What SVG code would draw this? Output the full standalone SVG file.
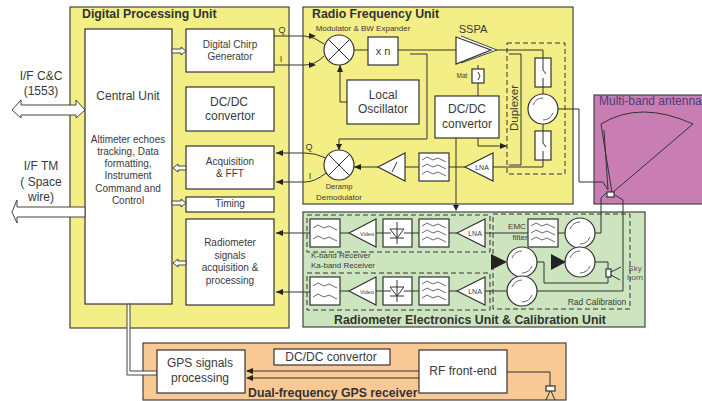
<svg xmlns="http://www.w3.org/2000/svg" width="702" height="401" viewBox="0 0 702 401">
<style>
text{font-family:"Liberation Sans",Arial,sans-serif;fill:#3a3a3a;font-size:10px;text-anchor:middle}
.t{font-weight:bold;font-size:12.3px;text-anchor:start;fill:#333}
.m{font-size:12px}
.s{font-size:8px}
.u{stroke:#444;stroke-width:1.2}
.b{fill:#fff;stroke:#333;stroke-width:1.2}
.l{fill:none;stroke:#333;stroke-width:1}
.d{fill:none;stroke:#333;stroke-width:1;stroke-dasharray:5 3}
.h{fill:#fff;stroke:#444;stroke-width:1}
.a{fill:#222;stroke:none}
.g{fill:none;stroke:#444;stroke-width:.8}
</style>
<defs>
<g id="filt2"><path class="g" d="M3 9l5-3 6 3 5-2 8 4M3 20l5-3 6 3 5-2 8 4"/></g>
<g id="filt3"><path class="g" d="M3 7l5-3 6 3 5-2 8 4M3 14l5-3 6 3 5-2 8 4M3 21l5-3 6 3 5-2 8 4"/></g>
<g id="circ"><circle r="15" class="b"/><path class="g" d="M-10-4A11 11 0 0 1 0-11M10 4A11 11 0 0 1 0 11"/></g>
<g id="mix"><circle r="15" class="b"/><path class="l" d="M-10-10L10 10M-10 10L10-10"/></g>
</defs>
<g id="digital-unit"><rect class="u" x="70" y="7" width="219" height="321" fill="#f3ee85"/><text class="t" x="82" y="18">Digital Processing Unit</text></g>
<g id="rf-unit"><rect class="u" x="303" y="7" width="270" height="197" fill="#f3ee85"/><text class="t" x="312" y="18">Radio Frequency Unit</text><text class="s" x="363" y="31">Modulator &amp; BW Expander</text></g>
<g id="antenna-unit"><rect class="u" x="594" y="95" width="109" height="109" fill="#c87db3"/><text x="599" y="105" style="text-anchor:start;font-size:12px;fill:#4a3f7a">Multi-band antenna</text><path class="l" d="M601 124Q640 100 693 124L612 193L601 124M604 130L608 190"/></g>
<g id="radiometer-unit"><rect class="u" x="303" y="212" width="342" height="115" fill="#cde5bf"/><text class="t" x="334" y="324">Radiometer Electronics Unit &amp; Calibration Unit</text></g>
<g id="gps-unit"><rect class="u" x="143" y="343" width="423" height="57" fill="#f9c995"/><text class="t" x="248" y="397">Dual-frequency GPS receiver</text></g>
<g id="central-unit"><rect class="b" x="85" y="29" width="87" height="275"/><text class="m" x="128" y="100">Central Unit</text><text x="128" y="143">Altimeter echoes</text><text x="128" y="155">tracking,  Data</text><text x="128" y="167">formatting,</text><text x="128" y="179">Instrument</text><text x="128" y="192">Command and</text><text x="128" y="204">Control</text></g>
<g id="chirp"><rect class="b" x="186" y="29" width="88" height="43"/><text x="230" y="48">Digital Chirp</text><text x="230" y="60">Generator</text></g>
<g id="dpu-dcdc"><rect class="b" x="186" y="87" width="88" height="44"/><text class="m" x="229" y="106">DC/DC</text><text class="m" x="230" y="120">convertor</text></g>
<g id="acq"><rect class="b" x="186" y="146" width="88" height="43"/><text x="230" y="165">Acquisition</text><text x="230" y="177">&amp; FFT</text></g>
<g id="timing"><rect class="b" x="186" y="197" width="88" height="15"/><text x="230" y="207">Timing</text></g>
<g id="rad-acq"><rect class="b" x="186" y="219" width="88" height="86"/><text x="230" y="246">Radiometer</text><text x="230" y="259">signals</text><text x="230" y="271">acquisition &amp;</text><text x="230" y="284">processing</text></g>
<g id="if-labels"><text class="m" x="41" y="80">I/F C&amp;C</text><text class="m" x="41" y="95">(1553)</text><text class="m" x="41" y="170">I/F TM</text><text class="m" x="41" y="186">( Space</text><text class="m" x="41" y="201">wire)</text></g>
<g id="connectors">
<path class="h" d="M12 110L21 100V105H76V100L85 110L76 118V115H21V118Z"/>
<path class="h" d="M85 207H17V200L12 212L17 223V217H85Z"/>
<path class="h" d="M172 49H181V47L186 51L181 55V53H172ZM186 166H178V164L173 168L178 172V170H186ZM172 201H181V199L186 203L181 207V205H172ZM186 261H178V259L173 263L178 267V265H186Z"/>
<path class="h" d="M127 305L128.500 304L130 305V371H157V375H127Z"/>
<path class="l" d="M274 36H305Q315 37 324 44M274 65H305Q315 65 324 56M276 153H305Q315 153 326 158M276 182H305Q315 182 326 173"/>
<path class="l" d="M276 233H310M276 292H310"/>
<path class="a" d="M276 153l7-3v6zM276 182l7-3v6zM276 233l7-3v6zM276 292l7-3v6z"/>
<path class="a" d="M316 36l-7-3v6zM316 65l-7-3v6z"/>
<path class="l" d="M354 50H368M398 50H456M492 50H543V58M543 87V94M543 124V131M543 160V167H493M465 167H449M419 167H405M378 167H354"/>
<path class="l" d="M340 102H347M340 102V65M410 54H427V139H339V150"/>
<path class="a" d="M340 65l-3 7h6zM339 150l-3-6h6zM354 167l7-3v6z"/>
<path class="l" d="M478 65V69M478 83V96M478 138V146H507"/><path class="a" d="M507 146l-7-3v6z"/>
<path class="l" d="M456 138V205"/><path class="a" d="M456 211l-3-6h6z"/>
<path class="l" d="M509 54H521V165H509"/>
<path class="l" d="M558 109H579V182H603L608 190M595 233H601V198L606 193M537 291H623V200L615 195"/>
<path class="l" d="M485 233H528M558 233H565M485 291H507M537 262H544V283H608V277M595 262H608V269"/>
<path class="l" d="M340 233H349M376 233H383M412 233H419M449 233H457M340 291H349M376 291H383M412 291H419M449 291H457"/>
<path class="l" d="M247 371H419M247 378H419M507 372H550V386"/>
<path class="a" d="M246 371l7-3v6zM246 378l7-3v6z"/>
</g>
<g id="rf-nodes">
<use href="#mix" x="339" y="50"/><use href="#mix" x="339" y="165"/>
<g id="xn"><rect class="b" x="368" y="37" width="30" height="28"/><text x="383" y="55" style="font-size:11px">x n</text></g>
<g id="lo"><rect class="b" x="347" y="80" width="72" height="44"/><text class="m" x="383" y="99">Local</text><text class="m" x="383" y="113">Oscillator</text></g>
<g id="sspa"><path class="h" d="M461 36L497 50L461 63"/><path class="b" d="M456 37V64L491 50Z"/><text x="473" y="33" style="font-size:11px">SSPA</text></g>
<g id="mat"><rect class="b" x="472" y="69" width="12" height="14"/><path class="l" d="M478 72l2 4-2 4"/><text x="462" y="78" style="font-size:6.500px">Mat</text></g>
<g id="rf-dcdc"><rect class="b" x="435" y="96" width="64" height="42"/><text class="m" x="467" y="113">DC/DC</text><text class="m" x="467" y="128">convertor</text></g>
<g id="duplexer"><path class="d" d="M507 43H565V174H507Z"/><text transform="translate(518 108) rotate(-90)" style="font-size:11.500px">Duplexer</text></g>
<g id="sw1"><rect class="b" x="535" y="58" width="16" height="29"/><path class="l" d="M543 58V70l3 4M543 78V87"/></g>
<g id="sw2"><rect class="b" x="535" y="131" width="16" height="29"/><path class="l" d="M543 131V143l3 4M543 151V160"/></g>
<use href="#circ" x="543" y="109"/>
<g id="rx-lna"><path class="b" d="M465 167L493 153V181Z"/><text x="482" y="170" style="font-size:7px">LNA</text></g>
<g id="rx-filter"><rect class="b" x="419" y="153" width="30" height="28"/><use href="#filt3" x="419" y="153"/></g>
<g id="rx-amp"><path class="b" d="M378 167L405 153V181Z"/><path class="l" d="M392 172l5-10"/></g>
<text x="339" y="189" style="font-size:7.500px">Deramp</text><text x="339" y="200" class="s">Demodulator</text>
<text x="282" y="33" style="font-size:9px">Q</text><text x="281" y="62" style="font-size:9px">I</text>
<text x="309" y="150" style="font-size:9px">Q</text><text x="310" y="179" style="font-size:9px">I</text>
</g>
<g id="radiometer-nodes">
<path class="d" d="M307 215H490V252H307ZM307 273H490V310H307ZM493 214H630V309H493Z"/>
<g id="r1"><rect class="b" x="310" y="219" width="30" height="28"/><use href="#filt2" x="310" y="219"/><path class="b" d="M349 233L376 219V247Z"/><text x="367" y="236" style="font-size:5.500px">Video</text><rect class="b" x="383" y="219" width="29" height="28"/><path class="l" d="M383 233H391M404 233H412M397 222V244M390 229H404L397 238ZM390 238H404"/><rect class="b" x="419" y="219" width="30" height="28"/><use href="#filt3" x="419" y="219"/><path class="b" d="M457 233L485 219V247Z"/><text x="475" y="236" style="font-size:7px">LNA</text></g>
<g id="r2"><rect class="b" x="310" y="277" width="30" height="28"/><use href="#filt2" x="310" y="277"/><path class="b" d="M349 291L376 277V305Z"/><text x="367" y="294" style="font-size:5.500px">Video</text><rect class="b" x="383" y="277" width="29" height="28"/><path class="l" d="M383 291H391M404 291H412M397 280V302M390 287H404L397 296ZM390 296H404"/><rect class="b" x="419" y="277" width="30" height="28"/><use href="#filt3" x="419" y="277"/><path class="b" d="M457 291L485 277V305Z"/><text x="475" y="294" style="font-size:7px">LNA</text></g>
<text x="311" y="258" class="s" style="text-anchor:start">K-band Receiver</text><text x="311" y="268" class="s" style="text-anchor:start">Ka-band Receiver</text>
<text x="517" y="229" class="s">EMC</text><text x="520" y="240" class="s">filter</text>
<g id="emc"><rect class="b" x="528" y="219" width="30" height="28"/><use href="#filt3" x="528" y="219"/></g>
<use href="#circ" x="580" y="233"/><use href="#circ" x="580" y="262"/><use href="#circ" x="522" y="262"/><use href="#circ" x="522" y="291"/>
<path class="a" d="M491 254L507 262L491 270ZM551 254L566 262L551 270Z"/>
<text x="597" y="305" style="font-size:8.500px">Rad Calibration</text>
<g id="skyhorn"><rect class="b" x="606" y="269" width="5" height="8"/><path class="l" d="M611 272L621 267M611 275L620 280"/><text x="635" y="271" class="s" style="fill:#556">Sky</text><text x="635" y="280" class="s" style="fill:#556">horn</text></g>
<rect class="b" x="607" y="192" width="7" height="5"/>
</g>
<g id="gps-nodes">
<g id="gps-proc"><rect class="b" x="157" y="350" width="88" height="43"/><text class="m" x="200" y="367">GPS signals</text><text class="m" x="200" y="382">processing</text></g>
<g id="gps-dc"><rect class="b" x="274" y="349" width="116" height="16"/><text class="m" x="331" y="361">DC/DC convertor</text></g>
<g id="rffe"><rect class="b" x="419" y="350" width="88" height="43"/><text class="m" x="463" y="375">RF front-end</text></g>
<g id="gps-ant"><rect class="b" x="546" y="386" width="9" height="5"/><path class="l" d="M550 391L546 400M551 391L555 400"/></g>
</g>
</svg>
